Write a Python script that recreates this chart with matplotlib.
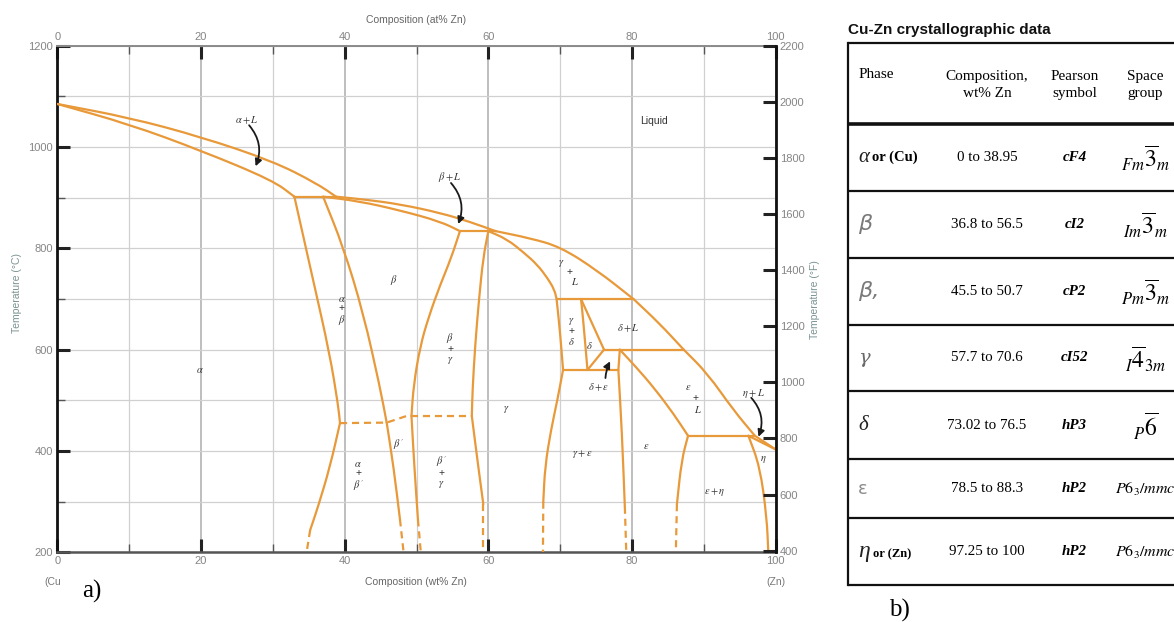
import matplotlib
matplotlib.use("Agg")
import matplotlib.pyplot as plt
from matplotlib.path import Path
from matplotlib.patches import PathPatch

plt.rcParams['font.family'] = ['Liberation Sans', 'DejaVu Sans']
plt.rcParams['mathtext.fontset'] = 'stix'

# ---------------- Cu-Zn phase boundaries (wt% Zn, temperature in degC) ----------------
# liquidus, split at the invariant points
liquidus_alpha = [(0, 1085), (10, 1058), (20, 1020), (30, 972), (36, 929), (38.8, 902)]
liquidus_beta = [(38.8, 902), (43, 896), (47.7, 887), (53.3, 870), (57.5, 852), (61.0, 834)]
liquidus_gamma = [(61.0, 834), (65.8, 820), (70, 803), (75.1, 757), (80.2, 700)]
liquidus_delta = [(80.2, 700), (83.8, 652), (87.2, 600)]
liquidus_eps = [(87.2, 600), (90.5, 553), (94.1, 481), (97.1, 430)]
liquidus_eta = [(97.1, 430), (100, 403)]

alpha_solidus = [(0, 1085), (10, 1045), (20, 993), (30, 934), (33.0, 902)]
beta_solidus = [(37.0, 902), (42, 893), (47.7, 875), (53.3, 853), (56.05, 834)]
gamma_solidus = [(60.0, 834), (62.6, 818), (64.9, 792), (66.8, 768), (68.3, 740),
                 (69.2, 718), (69.5, 700)]
eta_solidus = [(96.2, 430), (100, 403)]

alpha_beta_upper = [(33.0, 902), (35.6, 738), (37.9, 593), (39.1, 490), (39.35, 455)]
alpha_beta_lower = [(39.35, 455), (37.96, 369), (36.3, 290), (35.2, 244)]
beta_alpha_upper = [(37.0, 902), (39.8, 803), (42.6, 672), (44.9, 527), (45.85, 456)]
beta_alpha_lower = [(45.85, 456), (46.8, 369), (47.7, 265)]
beta_gamma_upper = [(56.05, 834), (54.8, 780), (53.3, 728), (51.7, 665), (50.5, 606),
                    (49.6, 530), (49.3, 469)]
beta_gamma_lower = [(49.3, 469), (49.7, 369), (50.2, 265)]
gamma_beta_upper = [(60.0, 834), (59.3, 783), (58.7, 700), (58.15, 606), (57.8, 520),
                    (57.7, 469)]
gamma_beta_lower = [(57.7, 469), (58.6, 369), (59.3, 295)]
gamma_delta = [(69.5, 700), (70.0, 632), (70.4, 560)]
delta_gamma = [(72.9, 700), (73.2, 659), (73.8, 560)]
delta_liquid = [(72.9, 700), (76.1, 600)]
delta_eps = [(76.1, 600), (73.8, 560)]
gamma_eps = [(70.4, 560), (69.6, 500), (68.7, 440), (67.9, 370), (67.65, 300)]
eps_delta = [(78.3, 600), (78.1, 560)]
eps_gamma = [(78.1, 560), (78.6, 435), (79.0, 290)]
eps_liquid = [(78.3, 600), (80.6, 565), (83.1, 524), (85.75, 474), (87.8, 430)]
eps_eta = [(87.8, 430), (86.9, 382), (86.25, 295)]
eta_solvus = [(96.2, 430), (97.8, 369), (98.75, 270), (98.97, 200)]

# invariant (horizontal) lines
peritectic_902 = [(33.0, 902), (38.8, 902)]
peritectic_834 = [(56.05, 834), (61.0, 834)]
peritectic_700 = [(69.5, 700), (80.2, 700)]
peritectic_600 = [(76.1, 600), (87.2, 600)]
eutectoid_560 = [(70.4, 560), (78.1, 560)]
peritectic_430 = [(87.8, 430), (97.1, 430)]

# uncertain / low-temperature continuations (dashed)
alpha_beta_low = [(35.2, 244), (34.7, 200)]
beta_alpha_low = [(47.7, 265), (48.2, 200)]
beta_gamma_low = [(50.2, 265), (50.6, 200)]
gamma_beta_low = [(59.3, 295), (59.3, 200)]
gamma_eps_low = [(67.65, 300), (67.6, 200)]
eps_gamma_low = [(79.0, 290), (79.2, 200)]
eps_eta_low = [(86.25, 295), (86.1, 200)]
beta_ordering = [(39.35, 455), (45.85, 456), (48.6, 469), (57.7, 469)]

# axis ticks
wt_ticks = [0, 20, 40, 60, 80, 100]
wt_minor = [10, 30, 50, 70, 90]
temp_c_ticks = [200, 400, 600, 800, 1000, 1200]
temp_c_minor = [300, 500, 700, 900, 1100]
temp_f_ticks = [400, 600, 800, 1000, 1200, 1400, 1600, 1800, 2000, 2200]

# ---------------- crystallographic table ----------------
table_headers = ['Phase', 'Composition,\nwt% Zn', 'Pearson\nsymbol', 'Space\ngroup']
phase_symbols = ['α', 'β', 'β,', 'γ', 'δ', 'ε', 'η']
phase_suffix = ['or (Cu)', '', '', '', '', '', 'or (Zn)']
compositions = ['0 to 38.95', '36.8 to 56.5', '45.5 to 50.7', '57.7 to 70.6',
                '73.02 to 76.5', '78.5 to 88.3', '97.25 to 100']
pearson_symbols = ['cF4', 'cI2', 'cP2', 'cI52', 'hP3', 'hP2', 'hP2']
space_groups = [r'$_{Fm}\overline{\mathrm{3}}_{m}$', r'$_{Im}\overline{\mathrm{3}}_{m}$',
                r'$_{Pm}\overline{\mathrm{3}}_{m}$', r'$_{I}\overline{\mathrm{4}}_{3m}$',
                r'$_{P}\overline{\mathrm{6}}$', r'$P6_{3}/mmc$', r'$P6_{3}/mmc$']


def smooth_path(pts):
    """Quadratic-Bezier path through the midpoints of a boundary's polyline."""
    if len(pts) < 3:
        return Path(pts)
    mids = [((pts[i][0] + pts[i + 1][0]) / 2, (pts[i][1] + pts[i + 1][1]) / 2)
            for i in range(len(pts) - 1)]
    verts = [pts[0], mids[0]]
    codes = [Path.MOVETO, Path.LINETO]
    for i in range(1, len(pts) - 1):
        verts += [pts[i], mids[i]]
        codes += [Path.CURVE3, Path.CURVE3]
    verts.append(pts[-1])
    codes.append(Path.LINETO)
    return Path(verts, codes)


# ---------------- figure ----------------
W, H = 1174, 622
fig = plt.figure(figsize=(W / 100, H / 100), dpi=100)
fig.patch.set_facecolor('white')

ORANGE = '#E8993A'
TICK_GRAY = '#858585'
TEXT_DARK = '#333333'

ax = fig.add_axes([57.3 / W, 1 - 552.3 / H, 718.4 / W, 506.6 / H])
ax.set_xlim(0, 100)
ax.set_ylim(200, 1200)
ax.set_axisbelow(True)

ax.set_xticks(wt_ticks)
ax.set_xticks(wt_minor, minor=True)
ax.set_yticks(temp_c_ticks)
ax.set_yticks(temp_c_minor, minor=True)
ax.tick_params(which='major', direction='in', length=9.5, width=2.2, color='#222222',
               labelsize=8, labelcolor=TICK_GRAY, top=True, labeltop=True, pad=3)
ax.tick_params(which='minor', direction='in', length=6, width=1.0, color='#555555', top=True)
ax.grid(which='minor', color='#d0d0d0', lw=0.9)
ax.yaxis.grid(which='major', color='#d0d0d0', lw=0.9)
ax.xaxis.grid(which='major', color='#acacac', lw=1.1)

ax.spines['left'].set_color('#111111')
ax.spines['left'].set_linewidth(2.0)
ax.spines['top'].set_color('#8a8a8a')
ax.spines['top'].set_linewidth(1.4)
ax.spines['bottom'].set_color('#555555')
ax.spines['bottom'].set_linewidth(1.8)
ax.spines['right'].set_visible(False)

axf = ax.twinx()
axf.set_ylim(394, 2201)
axf.set_yticks(temp_f_ticks)
axf.tick_params(direction='in', length=9.5, width=2.2, color='#222222', labelsize=8,
                labelcolor=TICK_GRAY, pad=3)
for side in ('left', 'top', 'bottom'):
    axf.spines[side].set_visible(False)
axf.spines['right'].set_color('#111111')
axf.spines['right'].set_linewidth(2.0)

solid_curves = [liquidus_alpha, liquidus_beta, liquidus_gamma, liquidus_delta,
                liquidus_eps, liquidus_eta, alpha_solidus, beta_solidus, gamma_solidus,
                eta_solidus, alpha_beta_upper, alpha_beta_lower, beta_alpha_upper,
                beta_alpha_lower, beta_gamma_upper, beta_gamma_lower, gamma_beta_upper,
                gamma_beta_lower, gamma_delta, delta_gamma, delta_liquid, delta_eps,
                gamma_eps, eps_delta, eps_gamma, eps_liquid, eps_eta, eta_solvus,
                peritectic_902, peritectic_834, peritectic_700, peritectic_600,
                eutectoid_560, peritectic_430]
dashed_curves = [alpha_beta_low, beta_alpha_low, beta_gamma_low, gamma_beta_low,
                 gamma_eps_low, eps_gamma_low, eps_eta_low, beta_ordering]

for pts in solid_curves:
    ax.add_patch(PathPatch(smooth_path(pts), fill=False, edgecolor=ORANGE, lw=1.6,
                           joinstyle='round', capstyle='round', zorder=3))
for pts in dashed_curves:
    xs, ys = zip(*pts)
    ax.plot(xs, ys, color=ORANGE, lw=1.6, ls=(0, (3.2, 2.2)), zorder=3)

# ---------------- phase field labels ----------------
lab = dict(fontsize=7.5, color=TEXT_DARK, ha='center', va='center', zorder=4)
ax.text(26.4, 1053, r'$\alpha + L$', **lab)
ax.text(54.66, 941, r'$\beta + L$', **lab)
ax.text(83.0, 1052, 'Liquid', fontsize=7.5, color=TEXT_DARK, ha='center', va='center')
ax.text(46.8, 737, r'$\beta$', **lab)
ax.text(39.6, 678, r'$\alpha$' + '\n+\n' + r'$\beta$', linespacing=0.95, **lab)
ax.text(19.9, 560, r'$\alpha$', **lab)
ax.text(41.9, 351, r'$\alpha$' + '\n+\n' + r"$\beta\,'$", linespacing=0.95, **lab)
ax.text(47.5, 412, r"$\beta\,'$", **lab)
ax.text(54.7, 603, r'$\beta$' + '\n+\n' + r'$\gamma$', linespacing=0.95, **lab)
ax.text(53.5, 359, r"$\beta\,'$" + '\n+\n' + r'$\gamma$', linespacing=0.95, **lab)
ax.text(62.55, 482, r'$\gamma$', **lab)
ax.text(70.2, 771, r'$\gamma$', **lab)
ax.text(71.35, 754, '+', **lab)
ax.text(72.1, 734, r'$L$', **lab)
ax.text(71.6, 636, r'$\gamma$' + '\n+\n' + r'$\delta$', linespacing=0.95, **lab)
ax.text(74.05, 609, r'$\delta$', **lab)
ax.text(79.5, 642, r'$\delta + L$', **lab)
ax.text(75.3, 527, r'$\delta + \epsilon$', **lab)
ax.text(87.8, 527, r'$\epsilon$', **lab)
ax.text(88.8, 504, '+', **lab)
ax.text(89.2, 481, r'$L$', **lab)
ax.text(96.9, 514, r'$\eta + L$', **lab)
ax.text(82.0, 410, r'$\epsilon$', **lab)
ax.text(73.1, 394, r'$\gamma + \epsilon$', **lab)
ax.text(98.3, 384, r'$\eta$', **lab)
ax.text(91.45, 320, r'$\epsilon + \eta$', **lab)

arrow = dict(arrowstyle='-|>', color='#1a1a1a', lw=1.3, mutation_scale=10,
             shrinkA=0, shrinkB=0)
ax.annotate('', xy=(27.6, 962), xytext=(26.7, 1043),
            arrowprops=dict(connectionstyle='arc3,rad=-0.3', **arrow))
ax.annotate('', xy=(55.8, 848), xytext=(54.8, 929),
            arrowprops=dict(connectionstyle='arc3,rad=-0.3', **arrow))
ax.annotate('', xy=(97.6, 428), xytext=(96.6, 505),
            arrowprops=dict(connectionstyle='arc3,rad=-0.3', **arrow))
ax.annotate('', xy=(76.95, 577), xytext=(76.3, 544),
            arrowprops=dict(connectionstyle='arc3,rad=-0.1', **arrow))

# ---------------- axis titles ----------------
ax.text(0.4993, 1.0507, 'Composition (at% Zn)', transform=ax.transAxes, fontsize=7.5,
        color='#666666', ha='center', va='center')
ax.text(0.4993, -0.0586, 'Composition (wt% Zn)', transform=ax.transAxes, fontsize=7.5,
        color='#666666', ha='center', va='center')
ax.text(-0.006, -0.0586, '(Cu', transform=ax.transAxes, fontsize=7.5,
        color='#777777', ha='center', va='center')
ax.text(1.0004, -0.0586, '(Zn)', transform=ax.transAxes, fontsize=7.5,
        color='#777777', ha='center', va='center')
ax.text(-0.0565, 0.512, 'Temperature (°C)', transform=ax.transAxes, fontsize=7.5,
        color='#7b9393', ha='center', va='center', rotation=90)
ax.text(1.0547, 0.498, 'Temperature (°F)', transform=ax.transAxes, fontsize=7.5,
        color='#7b9393', ha='center', va='center', rotation=90)

fig.text(92 / W, 1 - 591 / H, 'a)', fontsize=18, family='Liberation Serif',
         ha='center', va='center')
fig.text(899 / W, 1 - 610 / H, 'b)', fontsize=18, family='Liberation Serif',
         ha='center', va='center')

# ---------------- table ----------------
fig.text(848 / W, 1 - 30 / H, 'Cu-Zn crystallographic data', fontsize=11,
         fontweight='bold', ha='left', va='center', color='#111111')

tb_top, tb_bot, tb_w = 43.3, 585.0, 340.0
axt = fig.add_axes([848 / W, 1 - tb_bot / H, tb_w / W, (tb_bot - tb_top) / H])
axt.set_xlim(0, tb_w)
axt.set_ylim(tb_bot - tb_top, 0)
axt.axis('off')

row_edges = [0, 80.7, 147.7, 214.4, 281.7, 347.7, 416.0, 475.0, 541.7]
col_x = [10.3, 139.0, 226.5, 297.5]
for i, y in enumerate(row_edges):
    axt.plot([0, tb_w], [y, y], color='#111111', lw=2.6 if i == 1 else 1.6,
             clip_on=False, solid_capstyle='butt')
axt.plot([0, 0], [row_edges[0], row_edges[-1]], color='#111111', lw=1.6, clip_on=False)

serif = 'Liberation Serif'
axt.text(col_x[0], 31.7, table_headers[0], family=serif, fontsize=11, ha='left', va='center')
for j in (1, 2, 3):
    axt.text(col_x[j], 41.5, table_headers[j], family=serif, fontsize=11,
             ha='center', va='center', linespacing=1.4)

sym_style = [dict(family=serif, style='italic', fontsize=15, color='#222222'),
             dict(family='DejaVu Sans', style='italic', fontsize=16, color='#7a7a7a'),
             dict(family='DejaVu Sans', style='italic', fontsize=16, color='#7a7a7a'),
             dict(family='DejaVu Serif', style='italic', fontsize=14, color='#6a6a6a'),
             dict(family=serif, style='italic', fontsize=15, color='#222222'),
             dict(family='DejaVu Sans', fontsize=13, color='#8c8c8c'),
             dict(family=serif, style='italic', fontsize=17, color='#222222')]
suffix_x = [23.5, 0, 0, 0, 0, 0, 25.0]
suffix_size = [10.5, 0, 0, 0, 0, 0, 9]
suffix_dy = [0, 0, 0, 0, 0, 0, 3]

for r in range(len(phase_symbols)):
    yc = 0.5 * (row_edges[r + 1] + row_edges[r + 2])
    axt.text(col_x[0], yc, phase_symbols[r], ha='left', va='center', **sym_style[r])
    if phase_suffix[r]:
        axt.text(suffix_x[r], yc + suffix_dy[r], phase_suffix[r], family=serif,
                 fontweight='bold', fontsize=suffix_size[r], ha='left', va='center')
    axt.text(col_x[1], yc, compositions[r], family=serif, fontsize=10.8,
             ha='center', va='center')
    axt.text(col_x[2], yc, pearson_symbols[r], family=serif, style='italic',
             fontweight='bold', fontsize=10.8, ha='center', va='center')
    sg_size = 11.5 if 'mmc' in space_groups[r] else 17
    axt.text(col_x[3], yc + 1, space_groups[r], fontsize=sg_size,
             ha='center', va='center')

fig.savefig('out.png', dpi=100, facecolor='white')
